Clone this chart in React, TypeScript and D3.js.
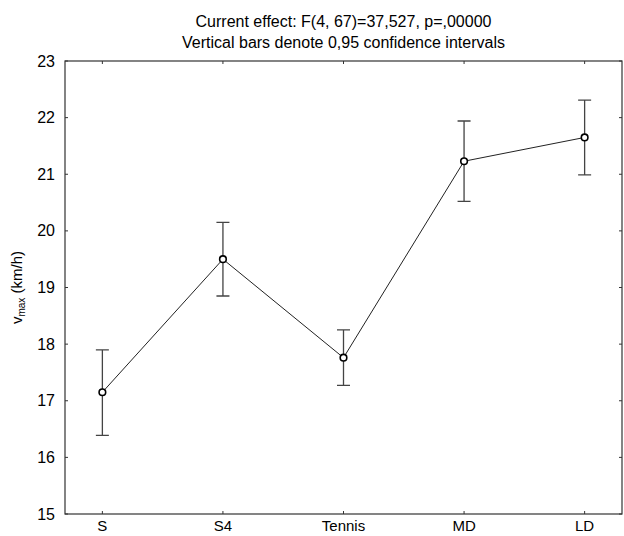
import React, { useRef, useEffect } from "react";
import * as d3 from "d3";

const groups = ["S", "S4", "Tennis", "MD", "LD"];
const means = [17.15, 19.5, 17.76, 21.23, 21.65];
const upper = [17.9, 20.15, 18.25, 21.94, 22.31];
const lower = [16.39, 18.85, 17.27, 20.52, 20.99];
const yTicks = [15, 16, 17, 18, 19, 20, 21, 22, 23];
const titleLines = [
  "Current effect: F(4, 67)=37,527, p=,00000",
  "Vertical bars denote 0,95 confidence intervals",
];

const App = () => {
  const chartRef = useRef<SVGSVGElement>(null);

  useEffect(() => {
    if (!chartRef.current) return;
    const width = 624;
    const height = 536;
    const margin = { top: 61, right: 2, bottom: 22, left: 65 };
    const font = "Arial, 'Liberation Sans', sans-serif";

    const svg = d3.select(chartRef.current);
    svg.selectAll("*").remove();

    const x = d3.scalePoint()
      .domain(groups)
      .range([margin.left, width - margin.right])
      .padding(0.31);

    const y = d3.scaleLinear()
      .domain([15, 23])
      .range([height - margin.bottom, margin.top]);

    const x0 = margin.left;
    const x1 = width - margin.right;
    const y0 = height - margin.bottom;
    const y1 = margin.top;

    // frame
    svg.append("rect")
      .attr("x", x0)
      .attr("y", y1)
      .attr("width", x1 - x0)
      .attr("height", y0 - y1)
      .attr("fill", "none")
      .attr("stroke", "#333")
      .attr("stroke-width", 1.2);

    // inward ticks
    const tickLen = 3;
    svg.selectAll(".ytick")
      .data(yTicks)
      .enter().append("path")
      .attr("d", (d) => `M${x0},${y(d)}h${tickLen}M${x1},${y(d)}h${-tickLen}`)
      .attr("stroke", "#333");

    svg.selectAll(".xtick")
      .data(groups)
      .enter().append("path")
      .attr("d", (d) => `M${x(d)},${y0}v${-tickLen}M${x(d)},${y1}v${tickLen}`)
      .attr("stroke", "#333");

    svg.selectAll(".ylabel")
      .data(yTicks)
      .enter().append("text")
      .attr("x", x0 - 10)
      .attr("y", (d) => y(d))
      .attr("dy", "0.35em")
      .attr("text-anchor", "end")
      .style("font-family", font)
      .style("font-size", "16px")
      .text((d) => d);

    svg.selectAll(".xlabel")
      .data(groups)
      .enter().append("text")
      .attr("x", (d) => x(d)!)
      .attr("y", y0 + 17)
      .attr("text-anchor", "middle")
      .style("font-family", font)
      .style("font-size", "15px")
      .text((d) => d);

    // titles
    svg.selectAll(".title")
      .data(titleLines)
      .enter().append("text")
      .attr("x", (x0 + x1) / 2)
      .attr("y", (d, i) => 27 + i * 21)
      .attr("text-anchor", "middle")
      .style("font-family", font)
      .style("font-size", "16px")
      .text((d) => d);

    // y axis title
    const yt = svg.append("text")
      .attr("transform", `translate(22,${(y0 + y1) / 2}) rotate(-90)`)
      .attr("text-anchor", "middle")
      .style("font-family", font)
      .style("font-size", "15px");
    yt.append("tspan").text("v");
    yt.append("tspan").attr("dy", 3).style("font-size", "10px").text("max");
    yt.append("tspan").attr("dy", -3).text(" (km/h)");

    // error bars
    const cap = 6.5;
    groups.forEach((g, i) => {
      const cx = x(g)!;
      svg.append("path")
        .attr("d", `M${cx},${y(upper[i])}V${y(lower[i])}M${cx - cap},${y(upper[i])}h${cap * 2}M${cx - cap},${y(lower[i])}h${cap * 2}`)
        .attr("stroke", "#444")
        .attr("stroke-width", 1.3)
        .attr("fill", "none");
    });

    const line = d3.line<number>()
      .x((d, i) => x(groups[i])!)
      .y((d) => y(d));

    svg.append("path")
      .datum(means)
      .attr("d", line)
      .attr("fill", "none")
      .attr("stroke", "#222")
      .attr("stroke-width", 1);

    svg.selectAll(".pt")
      .data(means)
      .enter().append("circle")
      .attr("cx", (d, i) => x(groups[i])!)
      .attr("cy", (d) => y(d))
      .attr("r", 3.3)
      .attr("fill", "white")
      .attr("stroke", "black")
      .attr("stroke-width", 1.6);
  }, []);

  return (
    <svg
      ref={chartRef}
      width={624}
      height={536}
      style={{ position: "absolute", left: 0, top: 0, background: "white" }}
    ></svg>
  );
};

export default App;
